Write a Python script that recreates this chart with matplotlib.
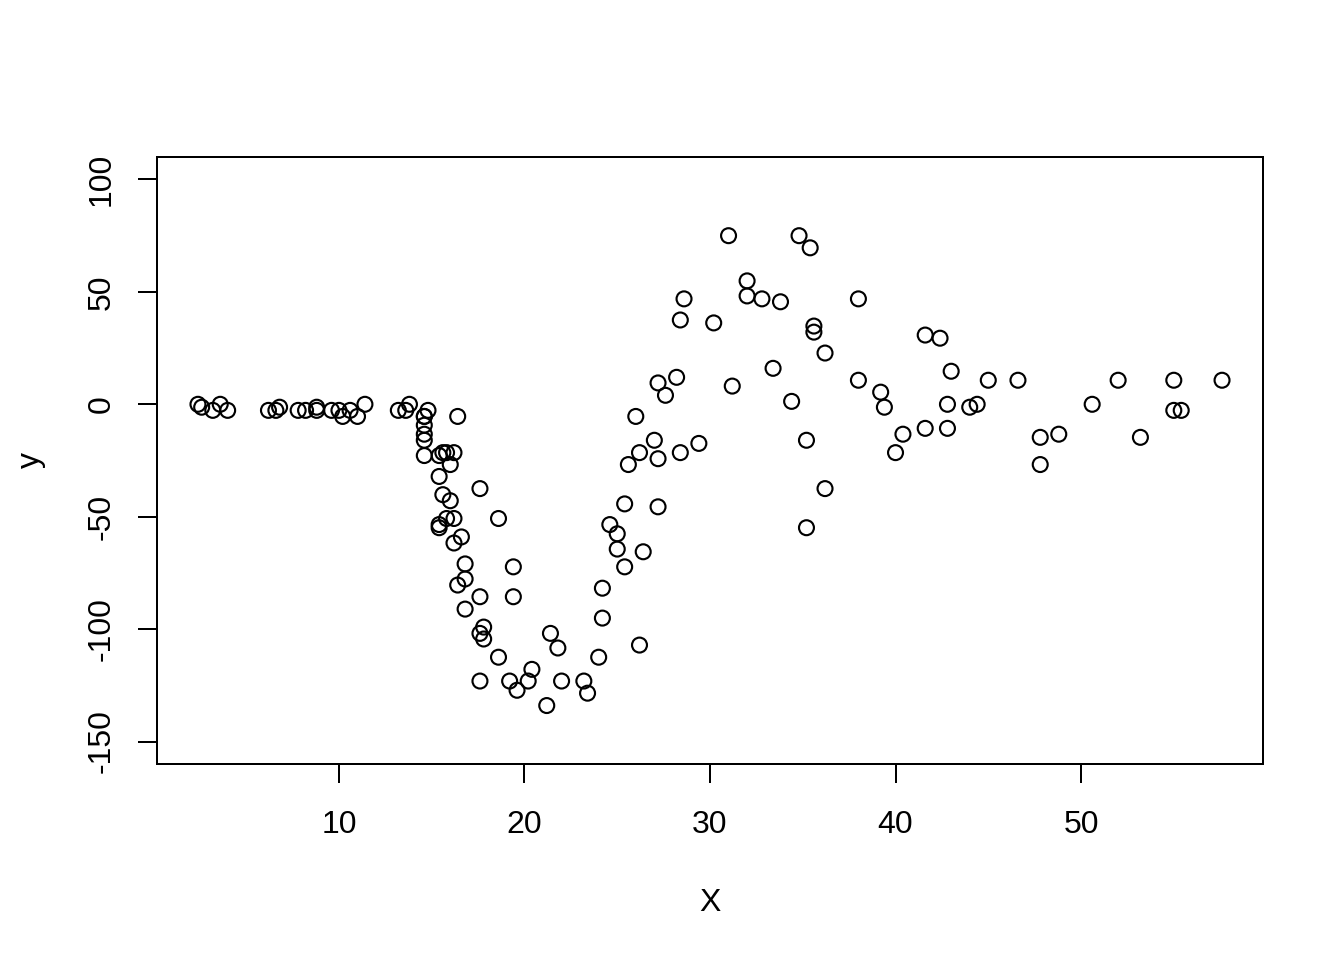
import matplotlib as mpl
import matplotlib.pyplot as plt
mpl.use('Agg')

times = [2.4, 2.6, 3.2, 3.6, 4.0, 6.2, 6.6, 6.8, 7.8, 8.2, 8.8, 8.8, 9.6, 10.0, 10.2,
         10.6, 11.0, 11.4, 13.2, 13.6, 13.8, 14.6, 14.6, 14.6, 14.6, 14.6, 14.6, 14.8,
         15.4, 15.4, 15.4, 15.4, 15.6, 15.6, 15.8, 15.8, 16.0, 16.0, 16.2, 16.2, 16.2,
         16.4, 16.4, 16.6, 16.8, 16.8, 16.8, 17.6, 17.6, 17.6, 17.6, 17.8, 17.8, 18.6,
         18.6, 19.2, 19.4, 19.4, 19.6, 20.2, 20.4, 21.2, 21.4, 21.8, 22.0, 23.2, 23.4,
         24.0, 24.2, 24.2, 24.6, 25.0, 25.0, 25.4, 25.4, 25.6, 26.0, 26.2, 26.2, 26.4,
         27.0, 27.2, 27.2, 27.2, 27.6, 28.2, 28.4, 28.4, 28.6, 29.4, 30.2, 31.0, 31.2,
         32.0, 32.0, 32.8, 33.4, 33.8, 34.4, 34.8, 35.2, 35.2, 35.4, 35.6, 35.6, 36.2,
         36.2, 38.0, 38.0, 39.2, 39.4, 40.0, 40.4, 41.6, 41.6, 42.4, 42.8, 42.8, 43.0,
         44.0, 44.4, 45.0, 46.6, 47.8, 47.8, 48.8, 50.6, 52.0, 53.2, 55.0, 55.0, 55.4,
         57.6]
accel = [0.0, -1.3, -2.7, 0.0, -2.7, -2.7, -2.7, -1.3, -2.7, -2.7, -1.3, -2.7, -2.7,
         -2.7, -5.4, -2.7, -5.4, 0.0, -2.7, -2.7, 0.0, -13.3, -5.4, -5.4, -9.3, -16.0,
         -22.8, -2.7, -22.8, -32.1, -53.5, -54.9, -40.2, -21.5, -21.5, -50.8, -42.9,
         -26.8, -21.5, -50.8, -61.7, -5.4, -80.4, -59.0, -71.0, -91.1, -77.7, -37.5,
         -85.6, -123.1, -101.9, -99.1, -104.4, -112.5, -50.8, -123.1, -85.6, -72.3,
         -127.2, -123.1, -117.9, -134.0, -101.9, -108.4, -123.1, -123.1, -128.5,
         -112.5, -95.1, -81.8, -53.5, -64.4, -57.6, -72.3, -44.3, -26.8, -5.4, -107.1,
         -21.5, -65.6, -16.0, -45.6, -24.2, 9.5, 4.0, 12.0, -21.5, 37.5, 46.9, -17.4,
         36.2, 75.0, 8.1, 54.9, 48.2, 46.9, 16.0, 45.6, 1.3, 75.0, -16.0, -54.9, 69.6,
         34.8, 32.1, -37.5, 22.8, 46.9, 10.7, 5.4, -1.3, -21.5, -13.3, 30.8, -10.7,
         29.4, 0.0, -10.7, 14.7, -1.3, 0.0, 10.7, 10.7, -26.8, -14.7, -13.3, 0.0, 10.7,
         -14.7, -2.7, 10.7, -2.7, 10.7]
xticks = [10, 20, 30, 40, 50]
yticks = [-150, -100, -50, 0, 50, 100]

plt.rcParams['font.family'] = ['Liberation Sans', 'DejaVu Sans']
plt.rcParams['font.size'] = 12

fig = plt.figure(figsize=(7, 5), dpi=192)
ax = fig.add_axes([157/1344, 196/960, (1263-157)/1344, (764-157)/960])
ax.scatter(times, accel, s=5.6**2, facecolors='none', edgecolors='black', linewidths=0.8)

xr = max(times) - min(times)
ax.set_xlim(min(times) - 0.04*xr, max(times) + 0.04*xr)
ax.set_ylim(-150 - 0.04*250, 100 + 0.04*250)
ax.set_xticks(xticks)
ax.set_yticks(yticks)
ax.set_yticklabels([str(v) for v in yticks], rotation=90, va='center')
ax.tick_params(direction='out', length=7.2, width=0.75, pad=8)
ax.tick_params(axis='x', pad=10)
for s in ax.spines.values():
    s.set_linewidth(0.75)

ax.set_xlabel("X", labelpad=18)
ax.set_ylabel("y", labelpad=15)

fig.savefig("out.png")
